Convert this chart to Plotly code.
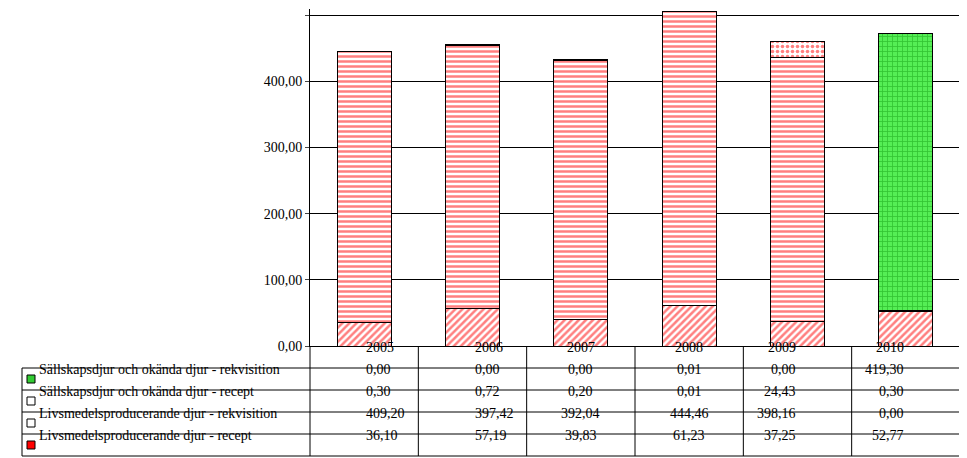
import plotly.graph_objects as go

years = ["2005", "2006", "2007", "2008", "2009", "2010"]
series_names = [
    "Sällskapsdjur och okända djur - rekvisition",
    "Sällskapsdjur och okända djur - recept",
    "Livsmedelsproducerande djur - rekvisition",
    "Livsmedelsproducerande djur - recept",
]
sall_rekv = [0.00, 0.00, 0.00, 0.01, 0.00, 419.30]
sall_recept = [0.30, 0.72, 0.20, 0.01, 24.43, 0.30]
livs_rekv = [409.20, 397.42, 392.04, 444.46, 398.16, 0.00]
livs_recept = [36.10, 57.19, 39.83, 61.23, 37.25, 52.77]
y_ticks = [0, 100, 200, 300, 400, 500]

def fmt(v):
    return f"{v:.2f}".replace(".", ",")

# page body has an 8px margin, so work in shifted pixel coordinates
OFF = 8
W, H = 967 - OFF, 458 - OFF
L, R, T, B = 310 - OFF, 960 - OFF, 9 - OFF, 346 - OFF
YMAX = 500 * (346 - 9) / (346 - 15)
def px(x): return (x - OFF - L) / (R - L)
def py(y): return (B - (y - OFF)) / (B - T)

fig = go.Figure()
styles = [
    (livs_recept, series_names[3], "/", "white", "red", 0.5),
    (livs_rekv, series_names[2], "-", "white", "red", 0.5),
    (sall_recept, series_names[1], ".", "white", "red", 0.4),
    (sall_rekv, series_names[0], "+", "#55ee55", "#119911", 0.3),
]
for vals, name, shape, bg, fg, sol in styles:
    fig.add_bar(x=years, y=vals, name=name, width=0.5,
                marker=dict(color=bg, line=dict(color="black", width=1),
                            pattern=dict(shape=shape, fgcolor=fg, bgcolor=bg, size=5, solidity=sol)))

shapes, ann = [], []
rows = [(sall_rekv, series_names[0], "#33cc33"), (sall_recept, series_names[1], "white"),
        (livs_rekv, series_names[2], "white"), (livs_recept, series_names[3], "red")]
rh = 22
line = dict(color="black", width=1)
def ln(x0, y0, x1, y1):
    shapes.append(dict(type="line", xref="paper", yref="paper", x0=px(x0), y0=py(y0), x1=px(x1), y1=py(y1), line=line))
Lp, Rp, Bp = 310, 960, 346
colw = (Rp - Lp) / 6
for k in range(7):
    ln(Lp + colw * k, Bp, Lp + colw * k, Bp + rh * 5)
ln(22, Bp + rh, 22, Bp + rh * 5)
for r in range(1, 6):
    ln(22, Bp + rh * r, Rp, Bp + rh * r)
for i, y in enumerate(years):
    ann.append(dict(x=px(Lp + colw * (i + 0.5)), y=py(Bp + rh / 2), text=y, showarrow=False))
for r, (vals, name, c) in enumerate(rows):
    yc = Bp + rh * (r + 1.5)
    shapes.append(dict(type="rect", xref="paper", yref="paper", x0=px(27), x1=px(35),
                       y0=py(yc - 4), y1=py(yc + 4), fillcolor=c, line=dict(color="black", width=1)))
    ann.append(dict(x=px(37), y=py(yc), text=name, showarrow=False, xanchor="left"))
    for i, v in enumerate(vals):
        ann.append(dict(x=px(Lp + colw * (i + 0.5)), y=py(yc), text=fmt(v), showarrow=False))
for a in ann:
    a.update(xref="paper", yref="paper", font=dict(size=14, color="black"))

fig.update_layout(
    barmode="stack", width=W, height=H, showlegend=False,
    margin=dict(l=L, r=W - R, t=T, b=H - B, pad=0),
    plot_bgcolor="white", paper_bgcolor="white",
    font=dict(family="Liberation Serif", size=14, color="black"),
    shapes=shapes, annotations=ann,
    xaxis=dict(showticklabels=False, showline=True, linecolor="black", mirror=False),
    yaxis=dict(range=[0, YMAX], tickvals=y_ticks, ticktext=[fmt(v) for v in y_ticks],
               showgrid=True, gridcolor="black", gridwidth=1, showline=True, linecolor="black",
               ticks="outside", ticklen=4, zeroline=False),
)
fig.write_html("out.html")
